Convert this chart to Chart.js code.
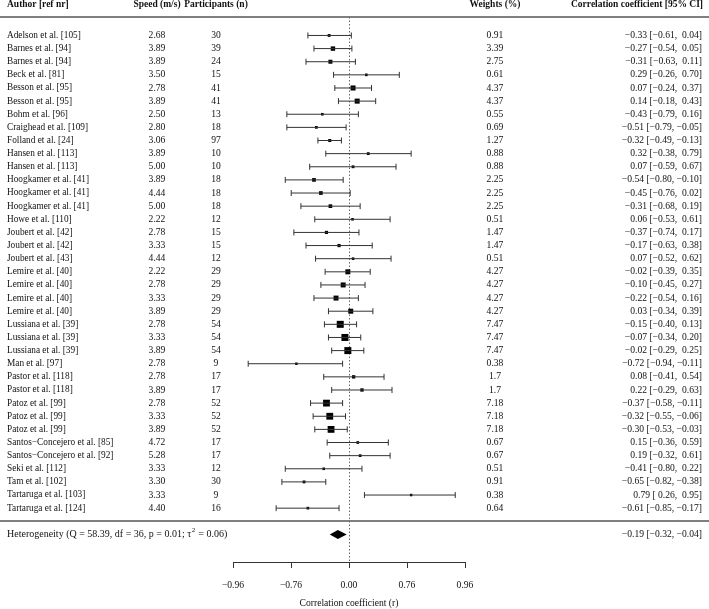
<!DOCTYPE html>
<html>
<head>
<meta charset="utf-8">
<script src="https://cdn.jsdelivr.net/npm/chart.js@4"></script>
<style>
  body { margin: 0; background: #fff; }
  canvas { display: block; }
</style>
</head>
<body>
<canvas id="forestChart" width="709" height="609"></canvas>
<script>
// Study rows, top to bottom
const authors = [
  'Adelson et al. [105]', 'Barnes et al. [94]', 'Barnes et al. [94]', 'Beck et al. [81]',
  'Besson et al. [95]', 'Besson et al. [95]', 'Bohm et al. [96]', 'Craighead et al. [109]',
  'Folland et al. [24]', 'Hansen et al. [113]', 'Hansen et al. [113]', 'Hoogkamer et al. [41]',
  'Hoogkamer et al. [41]', 'Hoogkamer et al. [41]', 'Howe et al. [110]', 'Joubert et al. [42]',
  'Joubert et al. [42]', 'Joubert et al. [43]', 'Lemire et al. [40]', 'Lemire et al. [40]',
  'Lemire et al. [40]', 'Lemire et al. [40]', 'Lussiana et al. [39]', 'Lussiana et al. [39]',
  'Lussiana et al. [39]', 'Man et al. [97]', 'Pastor et al. [118]', 'Pastor et al. [118]',
  'Patoz et al. [99]', 'Patoz et al. [99]', 'Patoz et al. [99]', 'Santos\u2212Concejero et al. [85]',
  'Santos\u2212Concejero et al. [92]', 'Seki et al. [112]', 'Tam et al. [102]', 'Tartaruga et al. [103]',
  'Tartaruga et al. [124]'
];
const speeds = [
  '2.68', '3.89', '3.89', '3.50', '2.78', '3.89', '2.50', '2.80', '3.06', '3.89', '5.00', '3.89',
  '4.44', '5.00', '2.22', '2.78', '3.33', '4.44', '2.22', '2.78', '3.33', '3.89', '2.78', '3.33',
  '3.89', '2.78', '2.78', '3.89', '2.78', '3.33', '3.89', '4.72', '5.28', '3.33', '3.30', '3.33', '4.40'
];
const participants = [
  30, 39, 24, 15, 41, 41, 13, 18, 97, 10, 10, 18, 18, 18, 12, 15, 15, 12, 29, 29, 29, 29,
  54, 54, 54, 9, 17, 17, 52, 52, 52, 17, 17, 12, 30, 9, 16
];
const weights = [
  '0.91', '3.39', '2.75', '0.61', '4.37', '4.37', '0.55', '0.69', '1.27', '0.88', '0.88', '2.25',
  '2.25', '2.25', '0.51', '1.47', '1.47', '0.51', '4.27', '4.27', '4.27', '4.27', '7.47', '7.47',
  '7.47', '0.38', '1.7', '1.7', '7.18', '7.18', '7.18', '0.67', '0.67', '0.51', '0.91', '0.38', '0.64'
];
const corr = [
  -0.33, -0.27, -0.31, 0.29, 0.07, 0.14, -0.43, -0.51, -0.32, 0.32, 0.07, -0.54, -0.45, -0.31,
  0.06, -0.37, -0.17, 0.07, -0.02, -0.10, -0.22, 0.03, -0.15, -0.07, -0.02, -0.72, 0.08, 0.22,
  -0.37, -0.32, -0.30, 0.15, 0.19, -0.41, -0.65, 0.79, -0.61
];
const ciLow = [
  -0.61, -0.54, -0.63, -0.26, -0.24, -0.18, -0.79, -0.79, -0.49, -0.38, -0.59, -0.80, -0.76, -0.68,
  -0.53, -0.74, -0.63, -0.52, -0.39, -0.45, -0.54, -0.34, -0.40, -0.34, -0.29, -0.94, -0.41, -0.29,
  -0.58, -0.55, -0.53, -0.36, -0.32, -0.80, -0.82, 0.26, -0.85
];
const ciHigh = [
  0.04, 0.05, 0.11, 0.70, 0.37, 0.43, 0.16, -0.05, -0.13, 0.79, 0.67, -0.10, 0.02, 0.19,
  0.61, 0.17, 0.38, 0.62, 0.35, 0.27, 0.16, 0.39, 0.13, 0.20, 0.25, -0.11, 0.54, 0.63,
  -0.11, -0.06, -0.03, 0.59, 0.61, 0.22, -0.38, 0.95, -0.17
];
// Pooled estimate [r, low, high]
const pooled = [-0.19, -0.32, -0.04];
const heterogeneityText = ['Heterogeneity (Q = 58.39, df = 36, p = 0.01; \u03c4', '2', ' = 0.06)'];
// Axis is in Fisher z units, labelled back in r
const zTicks = [-2, -1, 0, 1, 2];

const z = r => Math.atanh(r);
const fmt = v => (v < 0 ? '\u2212' : ' ') + Math.abs(v).toFixed(2);
const ciLabel = (r, lo, hi) => `${fmt(r).trim()} [${fmt(lo)}, ${fmt(hi)}]`;

const serif = '"Liberation Serif", "Times New Roman", serif';
const ink = '#111';
const barInk = '#333';
const pooledRow = authors.length + 1;

const wNum = weights.map(Number);
const wMin = Math.min(...wNum), wMax = Math.max(...wNum);
const boxRadius = wNum.map(w => (2.5 + (w - wMin) / (wMax - wMin) * 4.5) / Math.SQRT2);

const ciData = [];
authors.forEach((a, i) => {
  ciData.push({ x: z(ciLow[i]), y: i }, { x: z(ciHigh[i]), y: i }, { x: null, y: null });
});
const capData = [];
authors.forEach((a, i) => {
  capData.push({ x: z(ciLow[i]), y: i }, { x: z(ciHigh[i]), y: i });
});
const pointData = corr.map((r, i) => ({ x: z(r), y: i }));

const forestDecor = {
  id: 'forestDecor',
  beforeDatasetsDraw(chart) {
    const { ctx, chartArea, scales: { x } } = chart;
    ctx.save();
    ctx.strokeStyle = '#555';
    ctx.lineWidth = 1.3;
    ctx.beginPath();
    ctx.moveTo(0, 17); ctx.lineTo(chart.width, 17);
    ctx.moveTo(0, 521); ctx.lineTo(chart.width, 521);
    ctx.stroke();
    // dotted reference line at r = 0
    const x0 = Math.round(x.getPixelForValue(0)) + 0.5;
    ctx.strokeStyle = '#666';
    ctx.lineWidth = 1;
    ctx.setLineDash([1.5, 2]);
    ctx.beginPath();
    ctx.moveTo(x0, 17); ctx.lineTo(x0, chartArea.bottom);
    ctx.stroke();
    ctx.restore();
  },
  afterDatasetsDraw(chart) {
    const { ctx, scales: { x, y } } = chart;
    ctx.save();
    // pooled diamond
    const yp = y.getPixelForValue(pooledRow);
    ctx.fillStyle = '#000';
    ctx.beginPath();
    ctx.moveTo(x.getPixelForValue(z(pooled[1])), yp);
    ctx.lineTo(x.getPixelForValue(z(pooled[0])), yp - 4.5);
    ctx.lineTo(x.getPixelForValue(z(pooled[2])), yp);
    ctx.lineTo(x.getPixelForValue(z(pooled[0])), yp + 4.5);
    ctx.closePath();
    ctx.fill();

    // headers
    ctx.fillStyle = ink;
    ctx.textBaseline = 'middle';
    ctx.font = `bold 9.5px ${serif}`;
    ctx.textAlign = 'left';
    ctx.fillText('Author [ref nr]', 7, 5);
    ctx.textAlign = 'center';
    ctx.fillText('Speed (m/s)', 157, 5);
    ctx.fillText('Participants (n)', 216, 5);
    ctx.fillText('Weights (%)', 495, 5);
    ctx.textAlign = 'right';
    ctx.fillText('Correlation coefficient [95% CI]', 703, 5);

    // rows
    authors.forEach((a, i) => {
      const yy = y.getPixelForValue(i);
      ctx.font = `9.3px ${serif}`;
      ctx.textAlign = 'left';
      ctx.fillText(a, 7, yy);
      ctx.font = `9.6px ${serif}`;
      ctx.textAlign = 'center';
      ctx.fillText(speeds[i], 157, yy);
      ctx.fillText(String(participants[i]), 216, yy);
      ctx.fillText(weights[i], 495, yy);
      ctx.textAlign = 'right';
      ctx.fillText(ciLabel(corr[i], ciLow[i], ciHigh[i]), 702, yy);
    });
    ctx.textAlign = 'right';
    ctx.fillText(ciLabel(pooled[0], pooled[1], pooled[2]), 702, yp);

    // heterogeneity line with superscript
    ctx.textAlign = 'left';
    ctx.font = `10px ${serif}`;
    let tx = 7;
    ctx.fillText(heterogeneityText[0], tx, yp);
    tx += ctx.measureText(heterogeneityText[0]).width + 0.5;
    ctx.font = `7px ${serif}`;
    ctx.fillText(heterogeneityText[1], tx, yp - 4);
    tx += ctx.measureText(heterogeneityText[1]).width + 0.5;
    ctx.font = `10px ${serif}`;
    ctx.fillText(heterogeneityText[2], tx, yp);
    ctx.restore();
  }
};

new Chart(document.getElementById('forestChart'), {
  type: 'scatter',
  data: {
    datasets: [
      {
        type: 'line',
        data: ciData,
        borderColor: barInk,
        borderWidth: 1,
        pointRadius: 0,
        spanGaps: false,
        tension: 0
      },
      {
        data: capData,
        pointStyle: 'line',
        rotation: 90,
        pointRadius: 3,
        borderColor: barInk,
        borderWidth: 1
      },
      {
        data: pointData,
        pointStyle: 'rect',
        pointRadius: boxRadius,
        backgroundColor: '#000',
        borderWidth: 0
      }
    ]
  },
  options: {
    responsive: false,
    animation: false,
    events: [],
    layout: { padding: { left: 233, right: 244, top: 0, bottom: 0 } },
    plugins: { legend: { display: false }, tooltip: { enabled: false } },
    scales: {
      y: {
        display: false,
        reverse: true,
        min: -2.32,
        max: 40.1
      },
      x: {
        min: -2,
        max: 2,
        afterBuildTicks: s => { s.ticks = zTicks.map(v => ({ value: v })); },
        afterFit: s => { s.height = 47; },
        border: { display: true, color: barInk, width: 1 },
        grid: { drawOnChartArea: false, drawTicks: true, tickLength: 6, color: barInk },
        ticks: {
          color: ink,
          padding: 12,
          maxRotation: 0,
          font: { family: serif, size: 9.6 },
          callback: v => fmt(Math.tanh(v)).trim()
        },
        title: {
          display: true,
          text: 'Correlation coefficient (r)',
          color: ink,
          font: { family: serif, size: 9.6 },
          padding: { top: 4, bottom: 0 }
        }
      }
    }
  },
  plugins: [forestDecor]
});
</script>
</body>
</html>
